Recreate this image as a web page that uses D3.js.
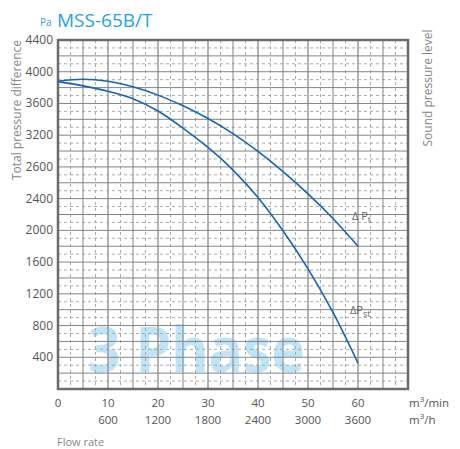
<!DOCTYPE html>
<html><head><meta charset="utf-8">
<script src="https://cdn.jsdelivr.net/npm/d3@7"></script>
<style>html,body{margin:0;padding:0;background:#fff;}svg{display:block;}</style>
</head><body>
<svg id="c" width="460" height="449"></svg>
<script>
// Data (flow in m3/min, pressure in Pa)
const flowPt  = [0, 5, 10, 15, 20, 25, 30, 35, 40, 45, 50, 55, 60];
const valuesPt  = [3880, 3905, 3880, 3810, 3705, 3570, 3410, 3220, 2995, 2740, 2460, 2150, 1800];
const flowPst = [0, 5, 10, 15, 20, 25, 30, 35, 40, 45, 50, 55, 60];
const valuesPst = [3875, 3822, 3755, 3660, 3505, 3290, 3045, 2760, 2415, 1995, 1515, 965, 325];
const yTickValues = [400, 800, 1200, 1600, 2000, 2400, 2800, 3200, 3600, 4000, 4400];
const yTickLabels = ["400", "800", "1200", "1600", "2000", "2400", "2600", "3200", "3600", "4000", "4400"];
const xTickValues = [0, 10, 20, 30, 40, 50, 60];
const xTickLabels1 = ["0", "10", "20", "30", "40", "50", "60"];
const xTickLabels2 = ["", "600", "1200", "1800", "2400", "3000", "3600"];

const svg = d3.select("#c");
const L = 58, R = 408, T = 40, B = 389;
const x = d3.scaleLinear().domain([0, 70]).range([L, R]);
const y = d3.scaleLinear().domain([0, 4400]).range([B, T]);
const font = "'Open Sans', 'Noto Sans', sans-serif";

// watermark
svg.append("text").attr("x", 88).attr("y", 372)
  .attr("textLength", 217).attr("lengthAdjust", "spacingAndGlyphs")
  .attr("font-family", "'Open Sans', sans-serif").attr("font-weight", "bold")
  .attr("font-size", 62).attr("fill", "#bde5f7").text("3 Phase");

// grid
const g = svg.append("g");
g.selectAll("line.vminor").data(d3.range(2.5, 70, 5)).join("line")
  .attr("x1", d => x(d)).attr("x2", d => x(d)).attr("y1", T).attr("y2", B)
  .attr("stroke", "#aaaaaa").attr("stroke-width", 1).attr("stroke-dasharray", "3,3");
g.selectAll("line.hminor").data(d3.range(100, 4400, 200)).join("line")
  .attr("x1", L).attr("x2", R).attr("y1", d => y(d)).attr("y2", d => y(d))
  .attr("stroke", "#aaaaaa").attr("stroke-width", 1).attr("stroke-dasharray", "3,3");
g.selectAll("line.vmajor").data(d3.range(5, 70, 5)).join("line")
  .attr("x1", d => x(d)).attr("x2", d => x(d)).attr("y1", T).attr("y2", B)
  .attr("stroke", d => d % 10 === 0 ? "#a0a0a0" : "#858585").attr("stroke-width", d => d % 10 === 0 ? 1.6 : 1);
g.selectAll("line.hmajor").data(d3.range(200, 4400, 200)).join("line")
  .attr("x1", L).attr("x2", R).attr("y1", d => y(d)).attr("y2", d => y(d))
  .attr("stroke", "#858585").attr("stroke-width", 1);

// border
svg.append("rect").attr("x", L).attr("y", T).attr("width", R - L).attr("height", B - T)
  .attr("fill", "none").attr("stroke", "#6c6c6c").attr("stroke-width", 2.5);

// curves
const line = d3.line().x(d => x(d[0])).y(d => y(d[1])).curve(d3.curveCatmullRom.alpha(0.5));
svg.append("path").datum(d3.zip(flowPt, valuesPt)).attr("d", line)
  .attr("fill", "none").attr("stroke", "#1466b4").attr("stroke-width", 1.6);
svg.append("path").datum(d3.zip(flowPst, valuesPst)).attr("d", line)
  .attr("fill", "none").attr("stroke", "#1466b4").attr("stroke-width", 1.6);

// y tick labels
svg.selectAll("text.yt").data(yTickValues).join("text")
  .attr("x", 53).attr("y", d => y(d) + 4).attr("text-anchor", "end")
  .attr("font-family", font).attr("font-size", 12).attr("fill", "#555")
  .text((d, i) => yTickLabels[i]);

// x tick labels
svg.selectAll("text.xt1").data(xTickValues).join("text")
  .attr("x", d => x(d)).attr("y", 407).attr("text-anchor", "middle")
  .attr("font-family", font).attr("font-size", 11.5).attr("fill", "#555")
  .text((d, i) => xTickLabels1[i]);
svg.selectAll("text.xt2").data(xTickValues).join("text")
  .attr("x", d => x(d)).attr("y", 424).attr("text-anchor", "middle")
  .attr("font-family", font).attr("font-size", 11.5).attr("fill", "#555")
  .text((d, i) => xTickLabels2[i]);

// units
const u1 = svg.append("text").attr("x", 409).attr("y", 407).attr("font-family", font)
  .attr("font-size", 11.5).attr("fill", "#555");
u1.append("tspan").text("m");
u1.append("tspan").attr("font-size", 8).attr("dy", -5).text("3");
u1.append("tspan").attr("dy", 5).text("/min");
const u2 = svg.append("text").attr("x", 409).attr("y", 424).attr("font-family", font)
  .attr("font-size", 11.5).attr("fill", "#555");
u2.append("tspan").text("m");
u2.append("tspan").attr("font-size", 8).attr("dy", -5).text("3");
u2.append("tspan").attr("dy", 5).text("/h");

svg.append("text").attr("x", 57).attr("y", 446).attr("font-family", font)
  .attr("font-size", 11).attr("fill", "#888").text("Flow rate");

// curve labels
const lt = svg.append("text").attr("x", 352).attr("y", 220).attr("font-family", font)
  .attr("font-size", 11).attr("fill", "#666");
lt.append("tspan").text("\u0394 P");
lt.append("tspan").attr("font-size", 9).attr("dy", 3).text("t");
const ls = svg.append("text").attr("x", 350).attr("y", 314).attr("font-family", font)
  .attr("font-size", 11).attr("fill", "#666");
ls.append("tspan").text("\u0394P");
ls.append("tspan").attr("font-size", 9).attr("dy", 3).text("st");

// axis titles
svg.append("text").attr("transform", "translate(21,110) rotate(-90)").attr("text-anchor", "middle")
  .attr("font-family", font).attr("font-size", 12).attr("fill", "#888").text("Total pressure difference");
svg.append("text").attr("transform", "translate(432,88) rotate(-90)").attr("text-anchor", "middle")
  .attr("font-family", font).attr("font-size", 12).attr("fill", "#888").text("Sound pressure level");

// title
svg.append("text").attr("x", 40).attr("y", 26).attr("font-family", font)
  .attr("font-size", 10).attr("fill", "#2aa6e6").text("Pa");
svg.append("text").attr("x", 57).attr("y", 27).attr("font-family", font)
  .attr("font-size", 19).attr("fill", "#1ea3e8").text("MSS-65B/T");
</script>
</body></html>
